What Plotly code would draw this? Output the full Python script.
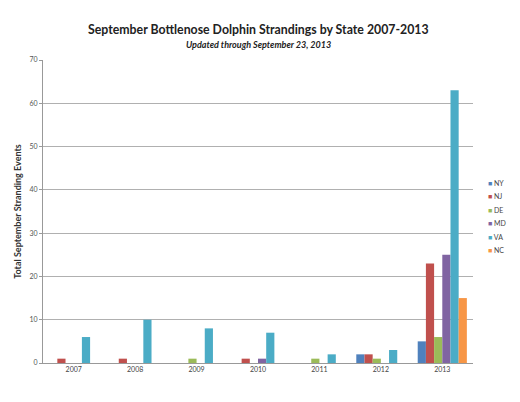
import plotly.graph_objects as go

years = ["2007", "2008", "2009", "2010", "2011", "2012", "2013"]
states = ["NY", "NJ", "DE", "MD", "VA", "NC"]
ny = [0, 0, 0, 0, 0, 2, 5]
nj = [1, 1, 0, 1, 0, 2, 23]
de = [0, 0, 1, 0, 1, 1, 6]
md = [0, 0, 0, 1, 0, 0, 25]
va = [6, 10, 8, 7, 2, 3, 63]
nc = [0, 0, 0, 0, 0, 0, 15]
series = [ny, nj, de, md, va, nc]
colors = ["#4F81BD", "#C0504D", "#9BBB59", "#8064A2", "#4BACC6", "#F79646"]

W, H = 520, 402
ML, MR, MT, MB = 43, 47, 60, 39
PH = H - MT - MB

fig = go.Figure()
for name, vals, c in zip(states, series, colors):
    fig.add_trace(go.Bar(name=name, x=years, y=vals, marker=dict(color=c, line=dict(width=0))))

annotations = [
    dict(text="<b>September Bottlenose Dolphin Strandings by State 2007-2013</b>",
         xref="paper", yref="paper", x=0.5, y=(H - MB - 30) / PH, xanchor="center", yanchor="middle",
         showarrow=False, font=dict(size=12.3, color="#222")),
    dict(text="<b><i>Updated through September 23, 2013</i></b>",
         xref="paper", yref="paper", x=0.5, y=(H - MB - 45) / PH, xanchor="center", yanchor="middle",
         showarrow=False, font=dict(size=9, color="#222")),
]
# custom compact legend
for i, (name, c) in enumerate(zip(states, colors)):
    ypx = 183 + i * 13.4
    annotations.append(dict(
        text=f"<span style='color:{c}'>■</span> {name}",
        xref="paper", yref="paper", x=(486 - ML) / (W - ML - MR), y=(H - MB - ypx) / PH,
        xanchor="left", yanchor="middle", showarrow=False,
        font=dict(size=7, color="#444"),
    ))

fig.update_layout(
    width=W, height=H,
    margin=dict(l=ML, r=MR, t=MT, b=MB),
    paper_bgcolor="white", plot_bgcolor="white",
    barmode="group", bargap=0.2, bargroupgap=0,
    font=dict(family="Lato, Open Sans, sans-serif", color="#333"),
    showlegend=False,
    annotations=annotations,
)
fig.update_xaxes(
    showline=True, linecolor="#999", linewidth=1,
    ticks="outside", ticklen=0, tickfont=dict(size=7, color="#444"),
    showgrid=False,
)
fig.update_yaxes(
    range=[0, 70], dtick=10, showgrid=True, gridcolor="#b0b0b0", gridwidth=1,
    showline=True, linecolor="#999", linewidth=1, zeroline=False,
    ticks="outside", ticklen=3, tickcolor="#999",
    tickfont=dict(size=7, color="#555"),
    title=dict(text="<b>Total September Stranding Events</b>", font=dict(size=9, color="#333"), standoff=6),
)

fig.write_html("out.html")
